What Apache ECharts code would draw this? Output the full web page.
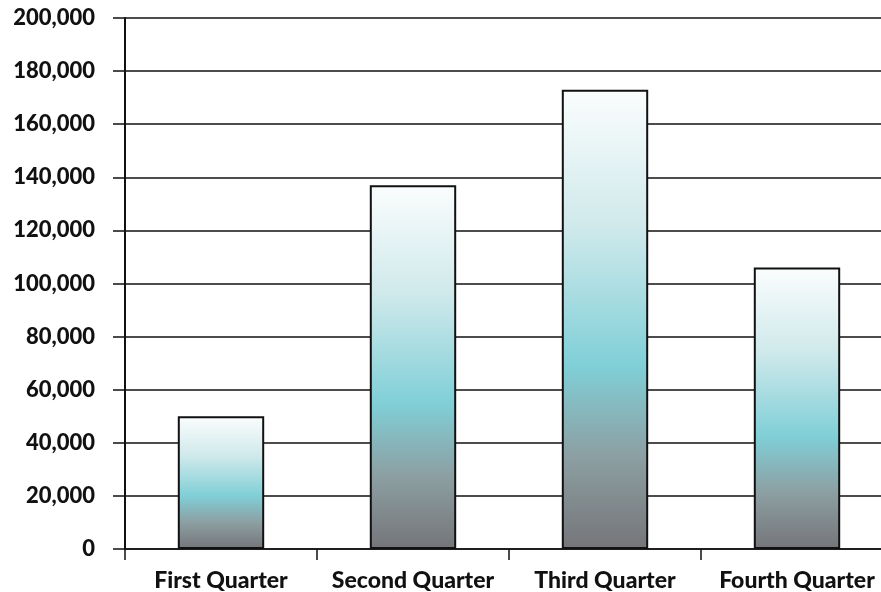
<!DOCTYPE html>
<html>
<head>
<meta charset="utf-8">
<style>
  html, body { margin: 0; padding: 0; background: #fff; overflow: hidden; }
  #chart { width: 893px; height: 592px; }
</style>
<script src="https://cdn.jsdelivr.net/npm/echarts@6/dist/echarts.min.js"></script>
</head>
<body>
<div id="chart"></div>
<script>
// Quarterly totals
const quarters = ['First Quarter', 'Second Quarter', 'Third Quarter', 'Fourth Quarter'];
const totals = [50000, 137000, 173000, 106000];
const yMin = 0;
const yMax = 200000;
const yStep = 20000;

const chart = echarts.init(document.getElementById('chart'), null, { renderer: 'canvas' });

const barFill = new echarts.graphic.LinearGradient(0, 0, 0, 1, [
  { offset: 0, color: '#fbfdfd' },
  { offset: 0.3, color: '#cfe9eb' },
  { offset: 0.6, color: '#80cfd7' },
  { offset: 0.8, color: '#8c9fa2' },
  { offset: 1, color: '#757579' }
]);

const labelFont = {
  fontFamily: 'Lato',
  fontWeight: 900,
  fontSize: 22,
  color: '#111'
};

chart.setOption({
  animation: false,
  backgroundColor: '#fff',
  // the plot runs past the right edge of the window, as in the printed layout
  grid: { left: 125, right: 0, top: 18, bottom: 43, containLabel: false },
  xAxis: {
    type: 'category',
    data: quarters,
    boundaryGap: true,
    axisLine: { show: true, lineStyle: { color: '#111', width: 1.5 } },
    axisTick: { show: true, length: 11, alignWithLabel: false, lineStyle: { color: '#111', width: 1.5 } },
    axisLabel: Object.assign({ margin: 20, interval: 0 }, labelFont, { fontSize: 23 }),
    splitLine: { show: false }
  },
  yAxis: {
    type: 'value',
    min: yMin,
    max: yMax,
    interval: yStep,
    axisLine: { show: true, lineStyle: { color: '#111', width: 2 } },
    axisTick: { show: true, length: 12, lineStyle: { color: '#111', width: 1.5 } },
    axisLabel: Object.assign({
      margin: 30,
      formatter: v => v.toLocaleString('en-US')
    }, labelFont),
    splitLine: { show: true, lineStyle: { color: '#111', width: 1.5 } }
  },
  series: [{
    type: 'bar',
    data: totals,
    barWidth: '45%',
    itemStyle: {
      color: barFill,
      borderColor: '#111',
      borderWidth: 2
    }
  }]
});
</script>
</body>
</html>
